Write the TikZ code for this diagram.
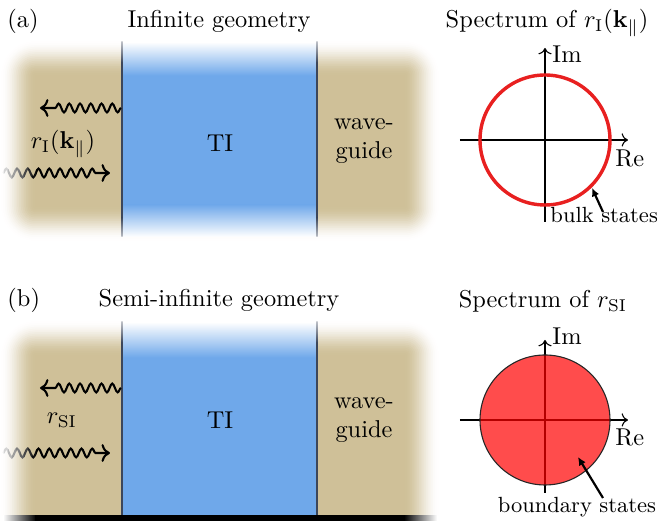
\documentclass[tikz,border=0pt]{standalone}
\usetikzlibrary{decorations.pathmorphing,arrows.meta}
\definecolor{tanc}{RGB}{207,192,152}
\definecolor{bluec}{RGB}{111,168,234}
\definecolor{edgec}{RGB}{60,70,90}
\definecolor{ringc}{RGB}{232,32,32}
\tikzset{
  txt/.style={inner sep=0pt},
  wave/.style={decorate,decoration={snake,amplitude=1.8pt,segment length=4.4pt,post length=5pt},line width=0.85pt,->},
  axisline/.style={line width=0.45pt,->},
  ptr/.style={line width=0.9pt,-{Latex[length=3.4pt,width=3.2pt]}},
  edgeline/.style={edgec,line width=0.5pt},
}
\begin{document}
\begin{tikzpicture}[x=0.41pt,y=-0.41pt]
\useasboundingbox (0,0) rectangle (657,521);
% ---------- tan background (a)
\foreach \i in {0,...,20}{
  \pgfmathsetmacro\ins{\i*35/20}
  \pgfmathsetmacro\tt{\i/20}
  \pgfmathsetmacro\pc{100*(3*\tt*\tt-2*\tt*\tt*\tt)}
  \pgfmathsetmacro\rr{(35-\ins)*0.41}
  \fill[tanc!\pc!white,rounded corners=\rr pt] ({\ins},{40+\ins}) rectangle ({440-\ins},{242-\ins});
}
% ---------- tan background (b)
\begin{scope}
\clip (0,300) rectangle (440,515.5);
\foreach \i in {0,...,20}{
  \pgfmathsetmacro\ins{\i*35/20}
  \pgfmathsetmacro\tt{\i/20}
  \pgfmathsetmacro\pc{100*(3*\tt*\tt-2*\tt*\tt*\tt)}
  \pgfmathsetmacro\rr{(35-\ins)*0.41}
  \fill[tanc!\pc!white,rounded corners=\rr pt] ({\ins},{320+\ins}) rectangle ({440-\ins},600);
}
\end{scope}
% ---------- TI slabs
\fill[bluec] (122,75) rectangle (317,205);
\shade[top color=white,bottom color=bluec] (122,42) rectangle (317,75.5);
\shade[top color=bluec,bottom color=white] (122,204.5) rectangle (317,237);
\fill[bluec] (122,357) rectangle (317,515.5);
\shade[top color=white,bottom color=bluec] (122,322) rectangle (317,357.5);
% slab edges: solid in the middle, lighter in the faded zones
\foreach \xx in {122,317}{
  \draw[edgeline] (\xx,62) -- (\xx,218);
  \shade[top color=edgec!35!white,bottom color=edgec] ({\xx-0.6},42) rectangle ({\xx+0.6},62.5);
  \shade[top color=edgec,bottom color=edgec!35!white] ({\xx-0.6},217.5) rectangle ({\xx+0.6},237);
  \draw[edgeline] (\xx,342) -- (\xx,515.5);
  \shade[top color=edgec!35!white,bottom color=edgec] ({\xx-0.6},322) rectangle ({\xx+0.6},342.5);
}
% bottom boundary line (b)
\shade[left color=white,right color=black] (3,515.5) rectangle (36,521);
\fill[black] (35.5,515.5) rectangle (404.5,521);
\shade[left color=black,right color=white] (404,515.5) rectangle (437,521);
% ---------- texts of panels
\node[txt,anchor=base west] (la) at (7,28) {(a)};
\node[txt,anchor=base] (ta) at (219,28) {Infinite geometry};
\node[txt,anchor=base] (sa) at (547,28) {Spectrum of $r_{\mathrm{I}}(\mathbf{k}_\parallel)$};
\node[txt] (tia) at (220,143) {TI};
\node[txt,align=center] (wga) at (364,141) {wave-\\guide};
\node[txt] (ra) at (63,144) {$r_{\mathrm{I}}(\mathbf{k}_\parallel)$};
\node[txt,anchor=base west] (lb) at (7,307) {(b)};
\node[txt,anchor=base] (tb) at (219,307) {Semi-infinite geometry};
\node[txt,anchor=base] (sb) at (543,308) {Spectrum of $r_{\mathrm{SI}}$};
\node[txt] (tib) at (220,420) {TI};
\node[txt,align=center] (wgb) at (364,420) {wave-\\guide};
\node[txt] (rb) at (62,420) {$r_{\mathrm{SI}}$};
% ---------- wave arrows
\coordinate (wa1s) at (121,108); \coordinate (wa1e) at (40,108);
\coordinate (wb1s) at (121,388); \coordinate (wb1e) at (40,388);
\coordinate (wa2s) at (3,173);   \coordinate (wa2e) at (110,173);
\coordinate (wb2s) at (3,453);   \coordinate (wb2e) at (110,453);
\draw[wave] (wa1s) -- (wa1e);
\draw[wave] (wb1s) -- (wb1e);
\foreach \yy/\nm in {173/wa2,453/wb2}{
  \foreach \k in {0,...,8}{
    \pgfmathsetmacro\xa{\k*4}
    \pgfmathsetmacro\xb{\k*4+4.3}
    \pgfmathsetmacro\pc{(\k+0.5)*100/9}
    \begin{scope}
      \clip ({\xa},{\yy-15}) rectangle ({\xb},{\yy+15});
      \draw[wave,draw=black!\pc!white] (\nm s) -- (\nm e);
    \end{scope}
  }
  \begin{scope}
    \clip (36,{\yy-15}) rectangle (130,{\yy+15});
    \draw[wave] (\nm s) -- (\nm e);
  \end{scope}
}
% ---------- spectrum (a)
\coordinate (ca) at (545,140);
\coordinate (axa1) at (460,140); \coordinate (axa2) at (628,140);
\coordinate (aya1) at (545,222); \coordinate (aya2) at (545,48);
\draw[axisline] (axa1) -- (axa2);
\draw[axisline] (aya1) -- (aya2);
\draw[ringc,line width=1.4pt] (ca) circle[radius=65];
\node[txt,anchor=base west] (ima) at (552,63) {Im};
\node[txt,anchor=base west] (rea) at (615,167) {Re};
\node[txt,anchor=base west,font=\small] (bsa) at (550,223) {bulk states};
\coordinate (pa1) at (603,212); \coordinate (pa2) at (592,188);
\draw[ptr] (pa1) -- (pa2);
% ---------- spectrum (b)
\coordinate (cb) at (545,420);
\coordinate (axb1) at (460,420); \coordinate (axb2) at (628,420);
\coordinate (ayb1) at (545,493); \coordinate (ayb2) at (545,340);
\draw[axisline] (axb1) -- (axb2);
\draw[axisline] (ayb1) -- (ayb2);
\draw[draw=black!85,line width=0.45pt,fill=red,fill opacity=0.7] (cb) circle[radius=65];
\node[txt,anchor=base west] (imb) at (552,345) {Im};
\node[txt,anchor=base west] (reb) at (615,446) {Re};
\node[txt,anchor=base,font=\small] (bsb) at (577,513) {boundary states};
\coordinate (pb1) at (603,498); \coordinate (pb2) at (578,457);
\draw[ptr] (pb1) -- (pb2);
\end{tikzpicture}
\end{document}
